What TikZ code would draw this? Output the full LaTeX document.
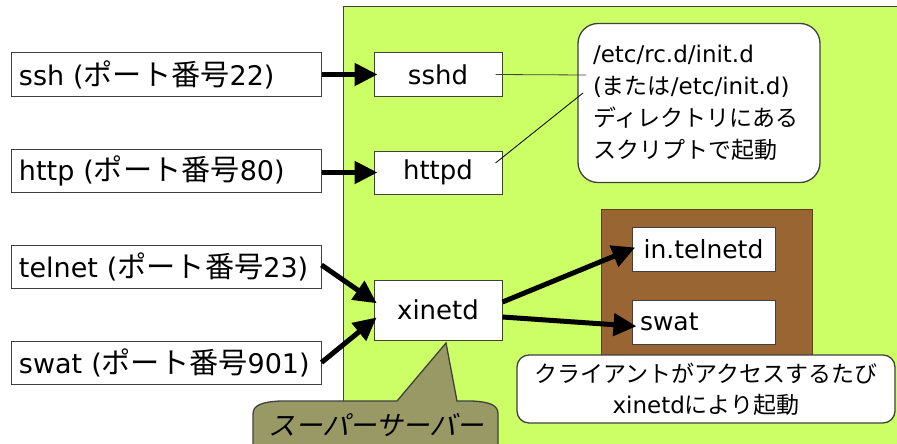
\documentclass[tikz,border=0pt]{standalone}
\usepackage{fontspec}
\setmainfont{DejaVu Sans}
\newfontfamily\jp{Noto Sans CJK JP}
\newfontfamily\jpbig[Scale=1.08]{Noto Sans CJK JP}
\newfontfamily\jpslant[FakeSlant=0.25]{Noto Sans CJK JP}
\usetikzlibrary{arrows.meta}

\definecolor{zone}{HTML}{CCFF66}
\definecolor{bark}{HTML}{996633}
\definecolor{olive}{HTML}{999966}
\definecolor{edge}{HTML}{404040}

\begin{document}
\begin{tikzpicture}[x=1pt,y=-1pt,
  box/.style={draw=edge, line width=1pt, fill=white, inner sep=0pt},
  port/.style={box, minimum width=310pt, minimum height=43pt,
    text width=294pt, inner xsep=8pt, align=left,
    font=\fontsize{27}{30}\selectfont},
  daemon/.style={box, minimum width=128pt, minimum height=43pt,
    font=\fontsize{26}{30}\selectfont},
  child/.style={box, minimum width=143pt, minimum height=44pt,
    font=\fontsize{25}{30}\selectfont},
  note/.style={draw=edge, line width=1.3pt, fill=white},
  flow/.style={line width=5pt, shorten >=-4pt,
    -{Triangle[length=23pt,width=22pt]}},
  lead/.style={line width=0.8pt, draw=edge}
]
\useasboundingbox (0,0) rectangle (897,444);
\fill[white] (0,0) rectangle (897,444);

% server host area
\fill[zone, draw=edge, line width=1pt] (343,7) rectangle (900,448);

% processes started on demand
\node[draw=bark!60!black, line width=0.6pt, fill=bark,
      minimum width=211pt, minimum height=156pt] (ondemand) at (706.5,287) {};

% client-side services
\node[port] (ssh)    at (166,74.5)  {ssh ({\jpbig ポート番号}22)};
\node[port] (http)   at (166,170.5) {http ({\jpbig ポート番号}80)};
\node[port] (telnet) at (166,266.5) {telnet ({\jpbig ポート番号}23)};
\node[port] (swat)   at (166,362.5) {swat ({\jpbig ポート番号}901)};

% standalone daemons and the super server
\node[daemon] (sshd)   at (438,74.5)  {sshd};
\node[daemon] (httpd)  at (438,172.5) {httpd};
\node[daemon, minimum height=60pt] (xinetd) at (438,310) {xinetd};

% services spawned by xinetd
\node[child] (intelnetd) at (703.5,249) {in.telnetd};
\node[child, text width=127pt, inner xsep=8pt, align=left] (swatd) at (703.5,322) {swat};

% note on init scripts
\node[note, rounded corners=20pt, minimum width=242pt, minimum height=159pt,
      text width=212pt, inner xsep=15pt, align=left,
      font=\fontsize{23}{32}\selectfont] (initnote) at (699,103)
  {/etc/rc.d/init.d\\({\jp または}/etc/init.d)\\{\jp ディレクトリにある}\\{\jp スクリプトで起動}};

% note on on-demand start
\node[note, rounded corners=12pt, minimum width=378pt, minimum height=68pt,
      align=center, font=\fontsize{23}{31}\selectfont] (xnote) at (706,389)
  {{\jp クライアントがアクセスするたび}\\xinetd{\jp により起動}};

% leader lines from the daemons to the note
\coordinate (noteA) at (586,75);
\coordinate (noteB) at (583,93);
\draw[lead] ([xshift=-7pt]sshd.east) -- (noteA);
\draw[lead, draw=black] ([xshift=-7pt,yshift=9.5pt]httpd.east) -- (noteB);

% connections
\draw[flow] (ssh.east) -- (sshd.west);
\draw[flow] ([yshift=-2pt]http.east) -- (httpd.west);
\draw[flow] ([yshift=1.5pt]telnet.east) -- ([yshift=9pt]xinetd.west);
\draw[flow] (swat.east) -- ([yshift=-10pt]xinetd.west);
\draw[flow] ([yshift=8pt]xinetd.east) -- (intelnetd.west);
\draw[flow] ([yshift=-7pt]xinetd.east) -- ([xshift=1pt,yshift=-4pt]swatd.west);

% "super server" callout pointing at xinetd
\coordinate (tip) at (446,343);
\filldraw[fill=olive, draw=edge, line width=1.3pt]
  (253,448) -- (253,414) .. controls (253,405) and (262,402) .. (280,401)
  -- (397,401) -- (tip) -- (457,401) -- (472,401)
  .. controls (490,402) and (498,405) .. (498,414) -- (498,448);
\node[font=\jpslant\fontsize{27}{30}\selectfont] (super) at (376,425) {スーパーサーバー};
\end{tikzpicture}
\end{document}
